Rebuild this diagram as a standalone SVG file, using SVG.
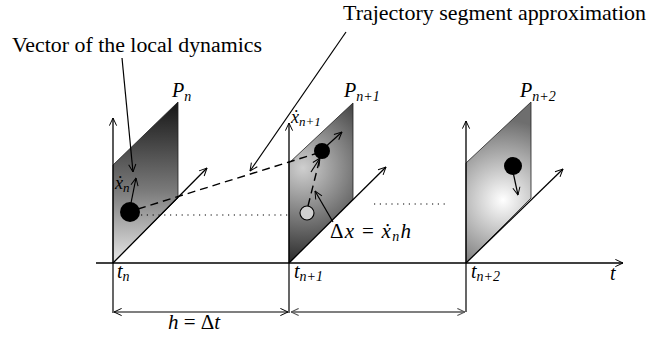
<svg xmlns="http://www.w3.org/2000/svg" width="648" height="337" viewBox="0 0 648 337">
<style>
.ln{stroke:#000;stroke-width:1.2;fill:none}
.ax{stroke:#000;stroke-width:1.3;fill:none}
.dash{stroke:#000;stroke-width:1.4;fill:none;stroke-dasharray:8,5}
.dot{stroke:#000;stroke-width:1.2;fill:none;stroke-dasharray:1.2,4.6}
.plane{stroke:#222;stroke-width:0.8}
.lbl{font-family:"Liberation Serif","Times New Roman",serif;fill:#000}
.it{font-style:italic}
</style>
<defs>
<marker id="arr" viewBox="0 0 10 10" refX="9.5" refY="5" markerWidth="9" markerHeight="9" markerUnits="userSpaceOnUse" orient="auto">
<path d="M1,1 L9.5,5 L1,9" fill="none" stroke="#000" stroke-width="1.1"/>
</marker>
<marker id="arrG" viewBox="0 0 10 10" refX="9.5" refY="5" markerWidth="9" markerHeight="9" markerUnits="userSpaceOnUse" orient="auto">
<path d="M1,1 L9.5,5 L1,9" fill="none" stroke="#555" stroke-width="1.2"/>
</marker>
<marker id="arrGs" viewBox="0 0 10 10" refX="0.5" refY="5" markerWidth="9" markerHeight="9" markerUnits="userSpaceOnUse" orient="auto">
<path d="M9,1 L0.5,5 L9,9" fill="none" stroke="#555" stroke-width="1.2"/>
</marker>
<marker id="arrS" viewBox="0 0 10 10" refX="0.5" refY="5" markerWidth="9" markerHeight="9" markerUnits="userSpaceOnUse" orient="auto">
<path d="M9,1 L0.5,5 L9,9" fill="none" stroke="#000" stroke-width="1.1"/>
</marker>
<linearGradient id="gN" gradientUnits="userSpaceOnUse" x1="0" y1="102" x2="0" y2="263">
<stop offset="0" stop-color="#161616"/>
<stop offset="0.55" stop-color="#7a7a7a"/>
<stop offset="1" stop-color="#e8e8e8"/>
</linearGradient>
<radialGradient id="gN1" gradientUnits="userSpaceOnUse" cx="303" cy="168" r="105">
<stop offset="0" stop-color="#cfcfcf"/>
<stop offset="1" stop-color="#1a1a1a"/>
</radialGradient>
<radialGradient id="gN2" gradientUnits="userSpaceOnUse" cx="503" cy="200" r="80">
<stop offset="0" stop-color="#ffffff"/>
<stop offset="0.7" stop-color="#9a9a9a"/>
<stop offset="1" stop-color="#6e6e6e"/>
</radialGradient>
</defs>

<g id="plane-n">
<polygon class="plane" points="113,263 113,165 178,102 178,198" fill="url(#gN)"/>
<text class="lbl it" x="172" y="97" font-size="20">P<tspan font-size="14" dy="4">n</tspan></text>
</g>
<g id="plane-n1">
<polygon class="plane" points="289,263 289,163 353,103 353,199" fill="url(#gN1)"/>
<text class="lbl it" x="344" y="97" font-size="20">P<tspan font-size="14" dy="4">n+1</tspan></text>
</g>
<g id="plane-n2">
<polygon class="plane" points="466,263 466,163 531,102 531,198" fill="url(#gN2)"/>
<text class="lbl it" x="520" y="97" font-size="20">P<tspan font-size="14" dy="4">n+2</tspan></text>
</g>

<g id="axes">
<line class="ax" x1="96" y1="263" x2="623" y2="263" marker-end="url(#arr)"/>
<line class="ax" x1="113" y1="263" x2="113" y2="118" marker-end="url(#arr)"/>
<line class="ax" x1="289" y1="263" x2="289" y2="123" marker-end="url(#arr)"/>
<line class="ax" x1="466" y1="263" x2="466" y2="121" marker-end="url(#arr)"/>
<line class="ax" x1="113" y1="263" x2="207" y2="168" marker-end="url(#arr)"/>
<line class="ax" x1="289" y1="263" x2="386" y2="167" marker-end="url(#arr)"/>
<line class="ax" x1="466" y1="263" x2="563" y2="169" marker-end="url(#arr)"/>
<line class="ln" x1="113" y1="263" x2="113" y2="313"/>
<line class="ln" x1="289" y1="263" x2="289" y2="313"/>
<line class="ln" x1="466" y1="263" x2="466" y2="312"/>
</g>

<g id="connectors">
<line class="ln" x1="114" y1="312" x2="288" y2="312" marker-start="url(#arrS)" marker-end="url(#arr)"/>
<line x1="291" y1="312" x2="465" y2="312" stroke="#555" stroke-width="1.6" marker-start="url(#arrGs)" marker-end="url(#arrG)"/>
<polyline class="dash" points="138,209 289,162 318,153"/>
<line class="dot" x1="141" y1="215" x2="288" y2="215"/>
<line class="dot" x1="374" y1="204" x2="446" y2="204"/>
<line class="ln" x1="322" y1="150" x2="342" y2="132" marker-end="url(#arr)"/>
<line class="ln" x1="131" y1="203" x2="136" y2="178" marker-end="url(#arr)"/>
<line class="dash" x1="308" y1="206" x2="320" y2="158" stroke-width="1.1" stroke-dasharray="6,4"/>
<line class="ln" x1="311" y1="172" x2="320" y2="158" stroke="none" marker-end="url(#arr)"/>
<line class="ln" x1="513" y1="172" x2="518" y2="195" marker-end="url(#arr)"/>
<line class="ln" x1="122" y1="58" x2="133" y2="172" marker-end="url(#arr)"/>
<line class="ln" x1="346" y1="32" x2="250" y2="171" marker-end="url(#arr)"/>
<line class="ln" x1="333" y1="222" x2="315" y2="191" marker-end="url(#arr)"/>
</g>

<g id="balls">
<circle cx="130" cy="212" r="10" fill="#000"/>
<circle cx="322" cy="151" r="8" fill="#000"/>
<circle cx="307" cy="213" r="7" fill="#cfcfcf" stroke="#000" stroke-width="1.1"/>
<circle cx="513" cy="166" r="9" fill="#000"/>
</g>

<g id="labels">
<text class="lbl" x="12" y="52" font-size="20" textLength="250" lengthAdjust="spacingAndGlyphs">Vector of the local dynamics</text>
<text class="lbl" x="343" y="20" font-size="21" textLength="303" lengthAdjust="spacingAndGlyphs">Trajectory segment approximation</text>
<text class="lbl it" x="115" y="189" font-size="18">ẋ<tspan font-size="13" dy="3">n</tspan></text>
<text class="lbl it" x="291" y="123" font-size="18">ẋ<tspan font-size="13" dy="3">n+1</tspan></text>
<text class="lbl" x="330" y="238" font-size="21" textLength="81">Δ<tspan class="it">x</tspan> = <tspan class="it">ẋ</tspan><tspan class="it" font-size="14" dy="3">n</tspan><tspan class="it" dy="-3">h</tspan></text>
<text class="lbl it" x="117" y="278" font-size="20">t<tspan font-size="14" dy="3">n</tspan></text>
<text class="lbl it" x="294" y="278" font-size="20">t<tspan font-size="14" dy="3">n+1</tspan></text>
<text class="lbl it" x="471" y="278" font-size="20">t<tspan font-size="14" dy="3">n+2</tspan></text>
<text class="lbl it" x="610" y="280" font-size="20">t</text>
<text class="lbl" x="194" y="329" font-size="21" text-anchor="middle"><tspan class="it">h</tspan> = Δ<tspan class="it">t</tspan></text>
</g>
</svg>
